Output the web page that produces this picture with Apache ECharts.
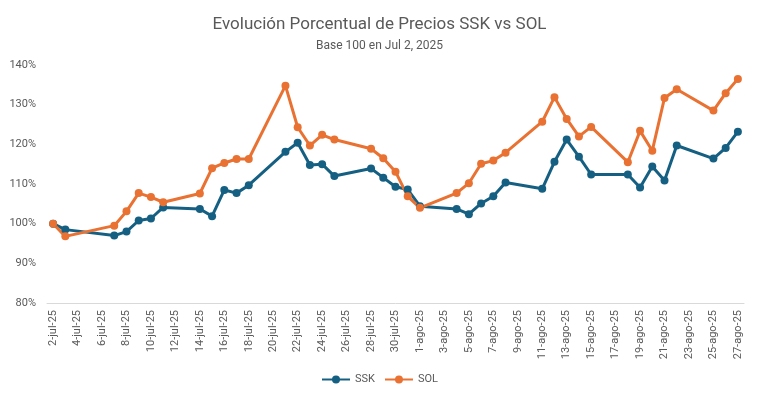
<!DOCTYPE html>
<html>
<head>
<meta charset="utf-8">
<script src="https://cdn.jsdelivr.net/npm/echarts@6/dist/echarts.min.js"></script>
<style>
  html, body { margin: 0; padding: 0; background: #fff; }
  #grafico { width: 759px; height: 399px; }
</style>
</head>
<body>
<div id="grafico"></div>
<script>
// Días de negociación (día-mes) y valores base 100
var fechas = ['2-jul', '3-jul', '7-jul', '8-jul', '9-jul', '10-jul', '11-jul',
  '14-jul', '15-jul', '16-jul', '17-jul', '18-jul', '21-jul', '22-jul', '23-jul',
  '24-jul', '25-jul', '28-jul', '29-jul', '30-jul', '31-jul', '1-ago', '4-ago',
  '5-ago', '6-ago', '7-ago', '8-ago', '11-ago', '12-ago', '13-ago', '14-ago',
  '15-ago', '18-ago', '19-ago', '20-ago', '21-ago', '22-ago', '25-ago', '26-ago', '27-ago'];

var ssk = [100, 98.5, 97.0, 98.0, 100.8, 101.3, 104.1,
  103.7, 101.9, 108.5, 107.7, 109.7, 118.1, 120.4, 114.8,
  115.0, 112.0, 113.9, 111.6, 109.3, 108.6, 104.4, 103.7,
  102.4, 105.1, 106.9, 110.4, 108.8, 115.6, 121.2, 116.9,
  112.4, 112.4, 109.1, 114.4, 110.9, 119.7, 116.4, 119.1, 123.2];

var sol = [100, 96.8, 99.5, 103.1, 107.7, 106.7, 105.4,
  107.6, 114.0, 115.3, 116.3, 116.3, 134.8, 124.3, 119.7,
  122.4, 121.2, 118.9, 116.5, 113.1, 106.9, 104.0, 107.7,
  110.2, 115.1, 115.9, 117.9, 125.7, 131.9, 126.4, 122.0,
  124.4, 115.5, 123.4, 118.4, 131.7, 133.9, 128.5, 132.9, 136.5];

// Eje de fechas: todos los días del 2-jul al 27-ago
var meses = [{ nombre: 'jul', desde: 2, hasta: 31 }, { nombre: 'ago', desde: 1, hasta: 27 }];
var dias = [];
meses.forEach(function (m) {
  for (var d = m.desde; d <= m.hasta; d++) {
    dias.push(d + '-' + m.nombre);
  }
});

function serieEnDias(valores) {
  return dias.map(function (dia) {
    var i = fechas.indexOf(dia);
    return i >= 0 ? valores[i] : null;
  });
}

var fuente = "'Roboto', sans-serif";
var gris = '#595959';

var grafico = echarts.init(document.getElementById('grafico'));

var option = {
  animation: false,
  title: {
    text: 'Evolución Porcentual de Precios SSK vs SOL',
    subtext: 'Base 100 en Jul 2, 2025',
    left: 'center',
    top: 11,
    itemGap: 7,
    textStyle: { fontFamily: fuente, fontSize: 17, fontWeight: 'normal', color: gris },
    subtextStyle: { fontFamily: fuente, fontSize: 12, color: gris }
  },
  legend: {
    data: ['SSK', 'SOL'],
    bottom: 9,
    left: 'center',
    itemWidth: 28,
    itemHeight: 10,
    itemGap: 9,
    textStyle: { fontFamily: fuente, fontSize: 11, color: gris }
  },
  grid: {
    left: 47,
    right: 15,
    top: 65,
    bottom: 96,
    containLabel: false
  },
  xAxis: {
    type: 'category',
    data: dias,
    boundaryGap: true,
    axisLine: { lineStyle: { color: '#d9d9d9', width: 1 } },
    axisTick: { show: false },
    axisLabel: {
      interval: 1,
      rotate: 90,
      color: gris,
      fontFamily: fuente,
      fontSize: 11,
      margin: 7,
      formatter: function (v) { return v + '-25'; }
    }
  },
  yAxis: {
    type: 'value',
    min: 80,
    max: 140,
    interval: 10,
    axisLine: { show: false },
    axisTick: { show: false },
    splitLine: { show: false },
    axisLabel: {
      color: gris,
      fontFamily: fuente,
      fontSize: 11,
      margin: 11,
      formatter: '{value}%'
    }
  },
  series: [
    {
      name: 'SSK',
      type: 'line',
      data: serieEnDias(ssk),
      connectNulls: true,
      symbol: 'circle',
      symbolSize: 8,
      lineStyle: { width: 3, color: '#156082' },
      itemStyle: { color: '#156082' }
    },
    {
      name: 'SOL',
      type: 'line',
      data: serieEnDias(sol),
      connectNulls: true,
      symbol: 'circle',
      symbolSize: 8,
      lineStyle: { width: 3, color: '#E97132' },
      itemStyle: { color: '#E97132' }
    }
  ]
};

grafico.setOption(option);
</script>
</body>
</html>
